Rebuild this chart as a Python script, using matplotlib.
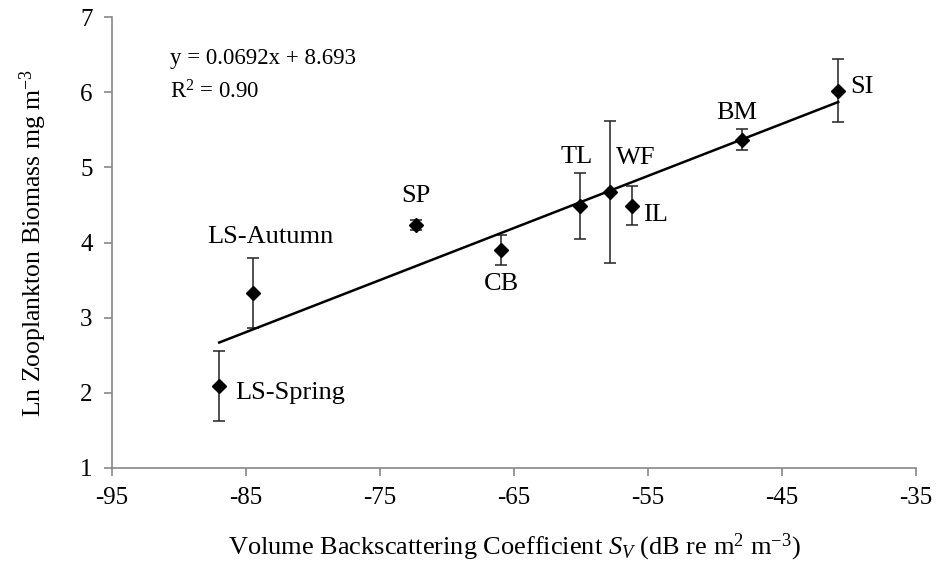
import numpy as np
import matplotlib
matplotlib.use("Agg")
import matplotlib.pyplot as plt

plt.rcParams["font.family"] = ["Liberation Serif", "DejaVu Serif"]
plt.rcParams["mathtext.fontset"] = "custom"
plt.rcParams["mathtext.rm"] = "Liberation Serif"
plt.rcParams["mathtext.it"] = "Liberation Serif:italic"
plt.rcParams["axes.unicode_minus"] = False

# site data: volume backscatter (dB) vs ln zooplankton biomass
sites = ["LS-Spring", "LS-Autumn", "SP", "CB", "TL", "WF", "IL", "BM", "SI"]
sv = [-87.0, -84.5, -72.3, -66.0, -60.1, -57.8, -56.2, -48.0, -40.8]
ln_biomass = [2.09, 3.33, 4.23, 3.90, 4.49, 4.67, 4.49, 5.37, 6.02]
err = [0.47, 0.47, 0.07, 0.20, 0.44, 0.94, 0.26, 0.14, 0.42]

# label placement (data coords) and alignment
label_x = [-85.8, -83.2, -72.3, -65.9, -60.3, -57.4, -55.4, -48.4, -39.9]
label_y = [2.00, 4.07, 4.62, 3.45, 5.14, 5.12, 4.36, 5.72, 6.07]
label_ha = ["left", "center", "center", "center", "center", "left", "left", "center", "left"]

fig = plt.figure(figsize=(9.38, 5.71), dpi=100)
ax = fig.add_axes([0.1194, 0.1804, 0.8571, 0.7898])

ax.errorbar(sv, ln_biomass, yerr=err, fmt="none", ecolor="#222222",
            elinewidth=1.1, capsize=4.5, capthick=1.1, zorder=2)
ax.plot(sv, ln_biomass, "D", color="black", markersize=7, zorder=4)

# linear trend line
slope, intercept = np.polyfit(sv, ln_biomass, 1)
xs = np.array([min(sv), max(sv)])
ax.plot(xs, slope * xs + intercept, color="black", linewidth=1.8, zorder=3)

for name, lx, ly, ha in zip(sites, label_x, label_y, label_ha):
    ax.text(lx, ly, name, ha=ha, va="center", fontsize=19)

ax.text(-90.7, 6.45, "y = 0.0692x + 8.693", fontsize=16.5, va="center")
ax.text(-90.7, 6.0, "R$^2$ = 0.90", fontsize=16.5, va="center")

ax.set_xlim(-95, -35)
ax.set_ylim(1, 7)
ax.set_xticks(np.arange(-95, -34, 10))
ax.set_yticks(np.arange(1, 8, 1))

for s in ["top", "right"]:
    ax.spines[s].set_visible(False)
for s in ["left", "bottom"]:
    ax.spines[s].set_color("#888888")
    ax.spines[s].set_linewidth(1.2)
ax.tick_params(direction="out", length=6, width=1.2, color="#888888",
               labelsize=18, pad=8)

ax.set_xlabel("Volume Backscattering Coefficient $S_V$ (dB re m$^2$ m$^{-3}$)",
              fontsize=19, labelpad=16)
ax.set_ylabel("Ln Zooplankton Biomass mg m$^{-3}$", fontsize=18.5, labelpad=22)

fig.savefig("out.png", dpi=100)
